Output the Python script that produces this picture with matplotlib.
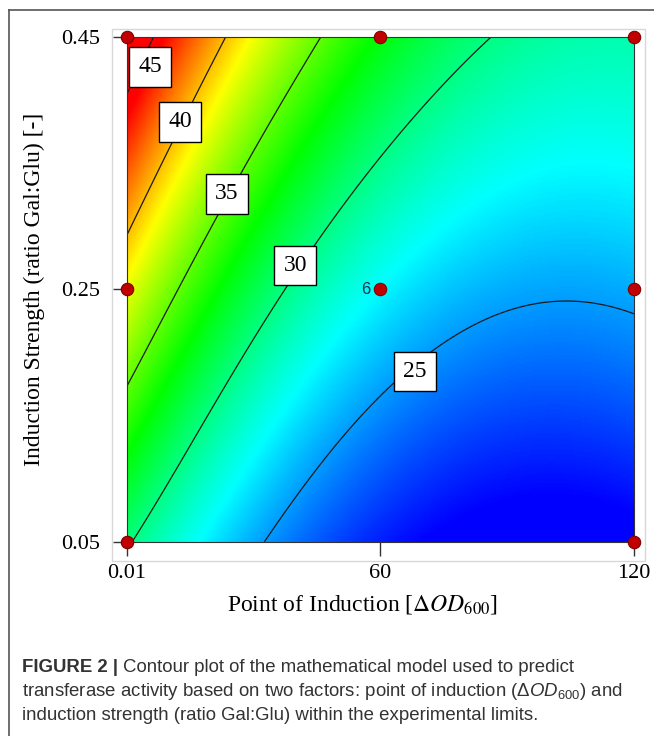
import numpy as np
import matplotlib
matplotlib.use('Agg')
import matplotlib.pyplot as plt
from matplotlib.colors import LinearSegmentedColormap
from matplotlib.patches import Rectangle

# model in coded factors X = (x-60)/60, Y = (y-0.25)/0.2
# terms are (power of X, power of Y), coefficients estimated from the contour plot
model_terms = [(0, 0), (0, 1), (0, 2), (1, 0), (1, 1), (1, 2),
               (2, 0), (2, 1), (2, 2), (3, 0), (3, 1), (3, 2)]
model_coefs = [27.16, 5.25, 0.29, -5.69, -1.95, -0.79,
               4.61, 0.97, -0.21, -0.69, -0.26, 0.35]

x_ticks = [0.01, 60, 120]
x_ticklabels = ['0.01', '60', '120']
y_ticks = [0.05, 0.25, 0.45]
y_ticklabels = ['0.05', '0.25', '0.45']
levels = [25, 30, 35, 40, 45]
label_pos = [(68.2, 0.185), (39.8, 0.269), (23.7, 0.326), (12.6, 0.383), (5.45, 0.4265)]

design_x = [0.01, 0.01, 0.01, 60, 60, 120, 120, 120]
design_y = [0.05, 0.25, 0.45, 0.25, 0.45, 0.05, 0.25, 0.45]
center_reps = 6

caption_head = 'FIGURE 2 |'
caption_lines = [
    'Contour plot of the mathematical model used to predict',
    r'transferase activity based on two factors: point of induction ($\Delta \mathit{OD}_{600}$) and',
    'induction strength (ratio Gal:Glu) within the experimental limits.',
]

plt.rcParams['font.family'] = ['Liberation Serif', 'DejaVu Serif']
plt.rcParams['mathtext.fontset'] = 'custom'
plt.rcParams['mathtext.rm'] = 'Liberation Sans'
plt.rcParams['mathtext.it'] = 'Liberation Sans:italic'

W, H = 654, 736
fig = plt.figure(figsize=(W / 100, H / 100), dpi=100)
ax = fig.add_axes([127 / W, 1 - 541.7 / H, 507 / W, 504.4 / H])

xx = np.linspace(0.01, 120, 300)
yy = np.linspace(0.05, 0.45, 300)
XX, YY = np.meshgrid(xx, yy)
Xc = (XX - 60.005) / 59.995
Yc = (YY - 0.25) / 0.2
Z = sum(c * Xc**i * Yc**j for c, (i, j) in zip(model_coefs, model_terms))

cmap = LinearSegmentedColormap.from_list('de', ['#0000ff', '#00ffff', '#00ff00', '#ffff00', '#ff0000'])
ax.imshow(Z, origin='lower', extent=[0.01, 120, 0.05, 0.45], aspect='auto', cmap=cmap,
          vmin=21.5, vmax=44.3, interpolation='bilinear')
ax.contour(XX, YY, Z, levels=levels, colors='#1a1a1a', linewidths=0.9)
for lev, (lx, ly) in zip(levels, label_pos):
    ax.text(lx, ly, str(lev), fontsize=17, ha='center', va='center',
            bbox=dict(boxstyle='square,pad=0.4', fc='white', ec='black', lw=1))

ax.scatter(design_x, design_y, s=80, c='#c00000', edgecolors='#800000', lw=0.8,
           zorder=5, clip_on=False)
ax.text(57.5, 0.25, str(center_reps), fontsize=12, family='Liberation Sans',
        color='#203050', ha='right', va='center')

ax.set_xlim(0.01, 120)
ax.set_ylim(0.05, 0.45)
ax.set_xticks(x_ticks, x_ticklabels)
ax.set_yticks(y_ticks, y_ticklabels)
ax.tick_params(direction='out', length=10, width=1, labelsize=16, colors='#333333',
               labelcolor='black')
ax.tick_params(axis='x', pad=6)
ax.tick_params(axis='y', pad=9)
for s in ax.spines.values():
    s.set_color('#333333')

ax.set_xlabel(r'Point of Induction [$\Delta \mathit{OD}_{\mathit{600}}$]', fontsize=17,
              math_fontfamily='stix')
ax.set_ylabel('Induction Strength (ratio Gal:Glu) [-]', fontsize=17)
ax.xaxis.set_label_coords(0.4635, -0.102)
ax.yaxis.set_label_coords(-0.162, 0.5)

# light frame around the plot and the page border
fig.patches.append(Rectangle((112 / W, 1 - 561 / H), 533 / W, 532 / H, transform=fig.transFigure,
                             fill=False, ec='#d8d8d8', lw=1))
fig.add_artist(plt.Line2D([9 / W, 9 / W], [0, 1 - 10 / H], color='#555555', lw=1.2))
fig.add_artist(plt.Line2D([9 / W, 1], [1 - 10 / H, 1 - 10 / H], color='#555555', lw=1.2))

cap_kw = dict(fontsize=13.4, family='Liberation Sans', color='#333333', va='center')
r = fig.canvas.get_renderer()
t = fig.text(22 / W, 1 - 667 / H, caption_head, weight='bold', **cap_kw)
bb = t.get_window_extent(r)
fig.text((bb.x1 + 5) / W, 1 - 667 / H, caption_lines[0], **cap_kw)
fig.text(22 / W, 1 - 691 / H, caption_lines[1], **cap_kw)
fig.text(22 / W, 1 - 715 / H, caption_lines[2], **cap_kw)

fig.savefig('out.png', dpi=100)
